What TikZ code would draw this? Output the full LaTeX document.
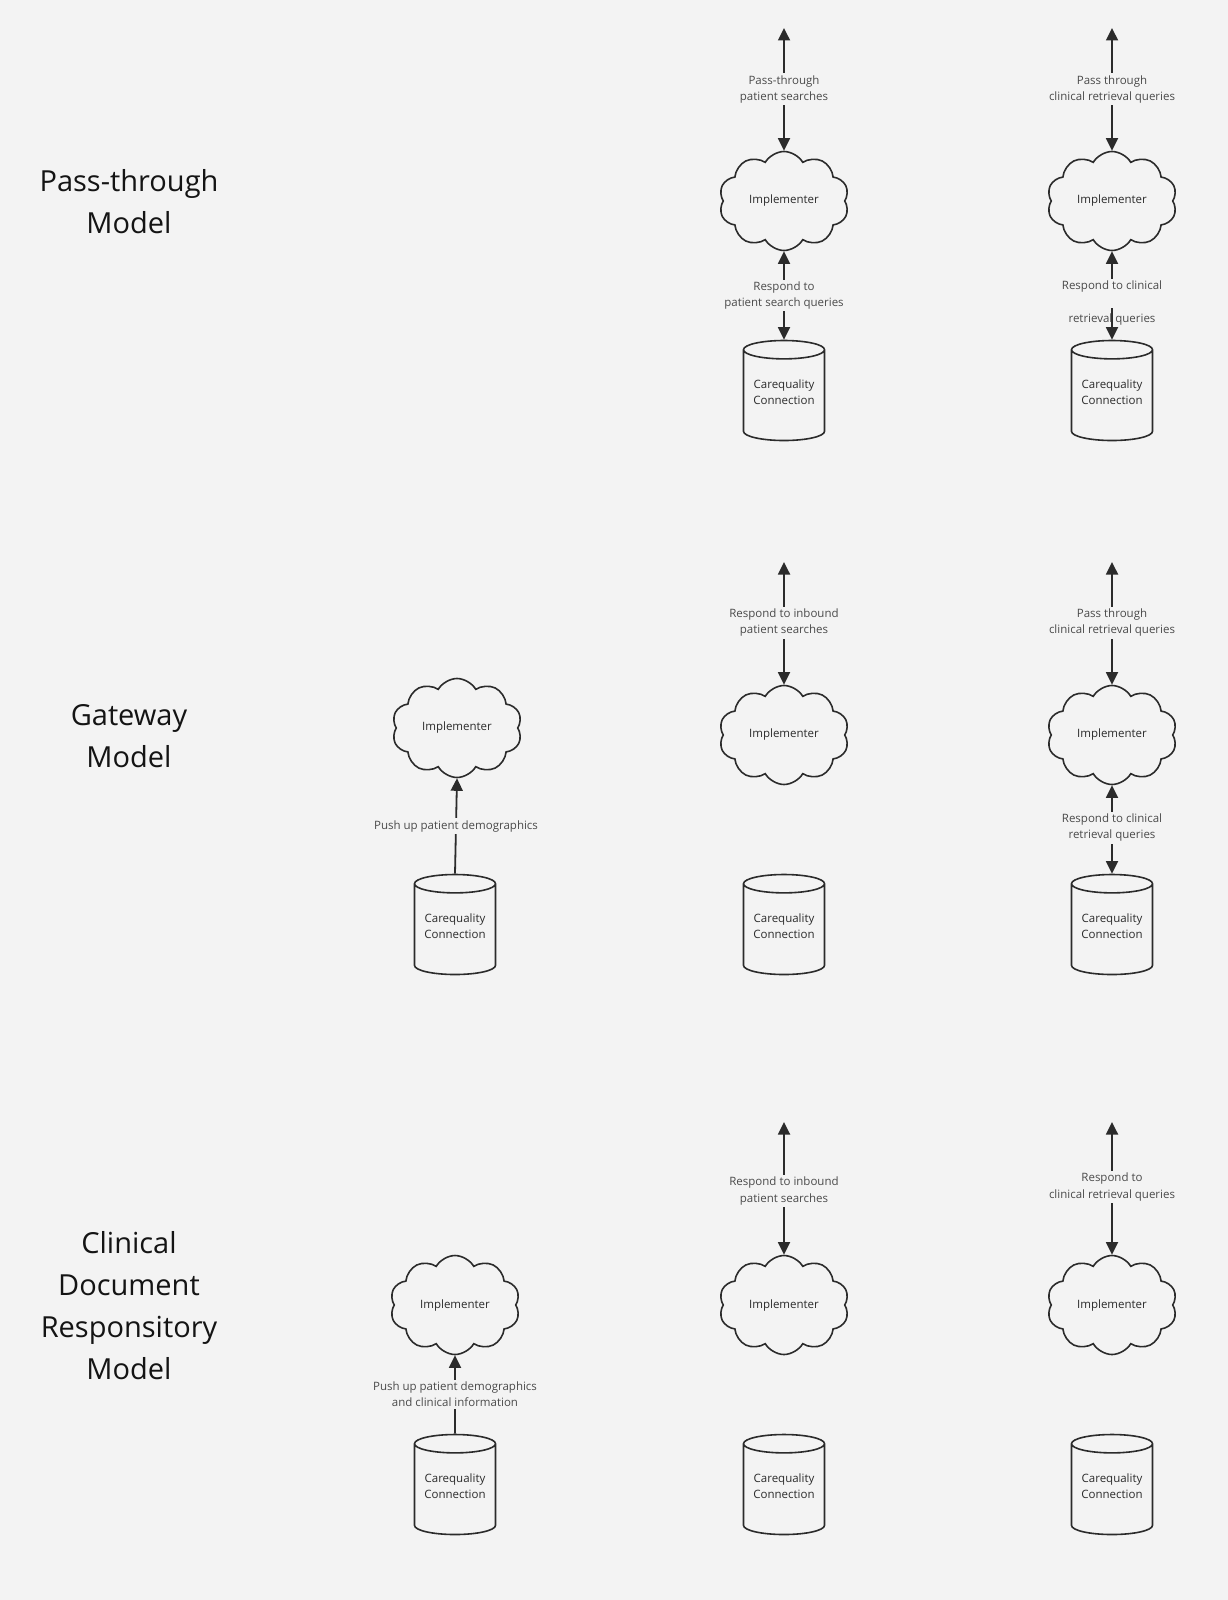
\documentclass[tikz,border=0pt]{standalone}
\usepackage{fontspec}
\setmainfont{Open Sans}
\usetikzlibrary{shapes.symbols,shapes.geometric,arrows.meta}
\definecolor{bg}{HTML}{F3F3F3}
\definecolor{ink}{HTML}{2B2B2B}
\definecolor{lblc}{HTML}{4A4A4A}
\newcommand{\dbtext}{\raisebox{2.5pt}[\height][\depth]{\begin{tabular}{@{}c@{}}Carequality\\Connection\end{tabular}}}
\begin{document}
\begin{tikzpicture}[x=1pt,y=-1pt,
  >={Triangle[width=12pt,length=12.5pt]},
  cloudbox/.style={cloud, cloud puffs=10, cloud puff arc=120, aspect=1.33,
    draw=ink, line width=1.6pt, minimum width=130pt, minimum height=99pt,
    inner sep=0pt, font=\fontsize{11.5}{16}\selectfont, text=ink},
  dbbox/.style={cylinder, shape border rotate=90, aspect=0.3, draw=ink,
    line width=1.6pt, minimum width=81pt, minimum height=100pt, inner sep=0pt,
    font=\fontsize{11.5}{16}\selectfont, text=ink},
  lbl/.style={fill=bg, inner sep=2pt, align=center,
    font=\fontsize{11.5}{16.3}\selectfont, text=lblc},
  plainlbl/.style={inner sep=2pt, align=center,
    font=\fontsize{11.5}{16.3}\selectfont, text=lblc},
  titletext/.style={align=center, font=\fontsize{29}{42}\selectfont, text=black!92},
  conn/.style={draw=ink, line width=1.8pt}
]
\fill[bg] (0,0) rectangle (1228,1600);
\useasboundingbox (0,0) rectangle (1228,1600);

% titles
\node[titletext] (t1) at (129,202) {Pass-through\\Model};
\node[titletext] (t2) at (129,736) {Gateway\\Model};
\node[titletext] (t3) at (129,1306) {Clinical\\Document\\Responsitory\\Model};

% ---------- Row 1 ----------
\node[cloudbox] (c12) at (784,201) {Implementer};
\node[cloudbox] (c13) at (1112,201) {Implementer};
\node[dbbox] (d12) at (784,395.5) {\dbtext};
\node[dbbox] (d13) at (1112,395.5) {\dbtext};
\coordinate (e12) at (784,28);
\coordinate (e13) at (1112,28);

\draw[conn,<->] (e12) -- (c12.north) node[lbl,pos=0.5] (l12a) {Pass-through\\patient searches};
\draw[conn,<->] (e13) -- (c13.north) node[lbl,pos=0.5] (l13a) {Pass through\\clinical retrieval queries};
\draw[conn,<->] (c12.south) -- (d12.north) node[lbl,pos=0.5] (l12b) {Respond to\\patient search queries};
\draw[conn,<->] (c13.south) -- (d13.north) node[lbl,pos=0.48] (l13b) {Respond to clinical\\~};
\node[plainlbl] (l13c) at (1112,320) {retrieval queries};

% ---------- Row 2 ----------
\node[cloudbox] (c21) at (457,728) {Implementer};
\node[cloudbox] (c22) at (784,735) {Implementer};
\node[cloudbox] (c23) at (1112,735) {Implementer};
\node[dbbox] (d21) at (455,929.5) {\dbtext};
\node[dbbox] (d22) at (784,929.5) {\dbtext};
\node[dbbox] (d23) at (1112,929.5) {\dbtext};
\coordinate (e22) at (784,562);
\coordinate (e23) at (1112,562);

\draw[conn,->] (d21.north) -- (c21.south) node[lbl,pos=0.5] (l21) {Push up patient demographics};
\draw[conn,<->] (e22) -- (c22.north) node[lbl,pos=0.495] (l22) {Respond to inbound\\patient searches};
\draw[conn,<->] (e23) -- (c23.north) node[lbl,pos=0.495] (l23a) {Pass through\\clinical retrieval queries};
\draw[conn,<->] (c23.south) -- (d23.north) node[lbl,pos=0.48] (l23b) {Respond to clinical\\retrieval queries};

% ---------- Row 3 ----------
\node[cloudbox] (c31) at (455,1305) {Implementer};
\node[cloudbox] (c32) at (784,1305) {Implementer};
\node[cloudbox] (c33) at (1112,1305) {Implementer};
\node[dbbox] (d31) at (455,1489.5) {\dbtext};
\node[dbbox] (d32) at (784,1489.5) {\dbtext};
\node[dbbox] (d33) at (1112,1489.5) {\dbtext};
\coordinate (e32) at (784,1122);
\coordinate (e33) at (1112,1122);

\draw[conn,->] (d31.north) -- (c31.south) node[lbl,pos=0.5] (l31) {Push up patient demographics\\and clinical information};
\draw[conn,<->] (e32) -- (c32.north) node[lbl,pos=0.52] (l32) {Respond to inbound\\patient searches};
\draw[conn,<->] (e33) -- (c33.north) node[lbl,pos=0.49] (l33) {Respond to\\clinical retrieval queries};
\end{tikzpicture}
\end{document}
